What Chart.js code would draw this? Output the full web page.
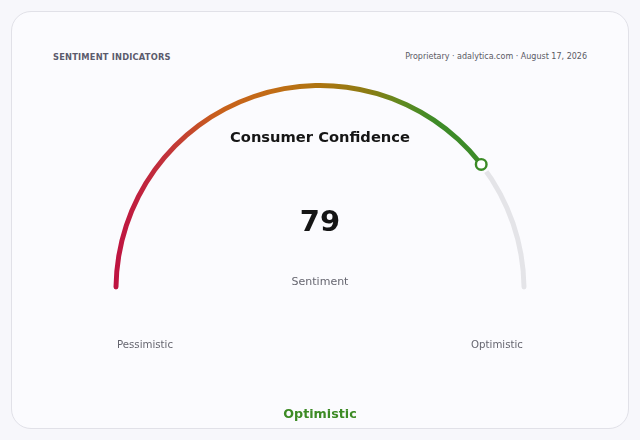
<!DOCTYPE html>
<html>
<head>
<meta charset="utf-8">
<script src="https://cdn.jsdelivr.net/npm/chart.js@4.4.1/dist/chart.umd.min.js"></script>
<style>
  html, body { margin: 0; padding: 0; background: #f7f7fb; font-family: "DejaVu Sans", sans-serif; }
  #page { position: relative; width: 640px; height: 440px; overflow: hidden; }
  .card { position: absolute; left: 11px; top: 11px; width: 616px; height: 416px;
          border: 1px solid #e1e1e8; border-radius: 20px; background: #fbfbfe; }
  #wrap { position: absolute; left: 0; top: 0; width: 640px; height: 440px; }
  .t { position: absolute; white-space: nowrap; line-height: 1; }
  .head { left: 53px; top: 53px; font-size: 8.3px; font-weight: bold; color: #5b5b6d; letter-spacing: 0.2px; }
  .src { right: 53px; top: 53px; font-size: 8px; color: #5a5a64; }
  .c { transform: translateX(-50%); }
</style>
</head>
<body>
<div id="page">
  <div class="card"></div>
  <div class="t head">SENTIMENT INDICATORS</div>
  <div class="t src">Proprietary · adalytica.com · August 17, 2026</div>
  <div id="wrap"><canvas id="gauge"></canvas></div>
  <div class="t c" style="left:320px; top:130px; font-size:14.7px; font-weight:bold; color:#151515;">Consumer Confidence</div>
  <div class="t c" id="valueText" style="left:320px; top:207px; font-size:29px; font-weight:bold; color:#151515;"></div>
  <div class="t c" style="left:320px; top:276px; font-size:11px; color:#666670;">Sentiment</div>
  <div class="t c" id="lowText" style="left:145px; top:340px; font-size:10.2px; color:#666670;"></div>
  <div class="t c" id="highText" style="left:497px; top:340px; font-size:10.2px; color:#666670;"></div>
  <div class="t c" id="zoneText" style="left:320px; top:408px; font-size:12.7px; font-weight:bold; color:#3d8b25;"></div>
</div>
<script>
// gauge data
const gaugeRange = [0, 100];
const gaugeValue = 79;
const segmentLabels = ["Consumer Confidence", "Remaining"];
const segmentValues = [gaugeValue, gaugeRange[1] - gaugeValue];
const scaleLabels = ["Pessimistic", "Optimistic"];
const zoneLabel = "Optimistic";

document.getElementById("valueText").textContent = gaugeValue;
document.getElementById("lowText").textContent = scaleLabels[0];
document.getElementById("highText").textContent = scaleLabels[1];
document.getElementById("zoneText").textContent = zoneLabel;

const ringRadius = 206.5;
const trackGrey = "#e4e4e8";
const markerGreen = "#3b8a25";
const cardBg = "#fbfbfe";

function segmentColor(context) {
    if (context.dataIndex !== 0) return trackGrey;
    const chart = context.chart;
    const cx = chart.width / 2;
    const g = chart.ctx.createLinearGradient(cx - ringRadius, 0, cx + ringRadius, 0);
    g.addColorStop(0, "#be1241");
    g.addColorStop(0.13, "#c2333b");
    g.addColorStop(0.25, "#c8601c");
    g.addColorStop(0.38, "#c26c16");
    g.addColorStop(0.5, "#ad7410");
    g.addColorStop(0.62, "#8a7c14");
    g.addColorStop(0.7, "#5e8a20");
    g.addColorStop(0.78, "#3e8b28");
    g.addColorStop(1, "#3a8a28");
    return g;
}

// marker at the end of the value arc, with a small gap before the grey track
const markerPlugin = {
    id: "marker",
    afterDatasetsDraw(chart) {
        const arc = chart.getDatasetMeta(0).data[0];
        if (!arc) return;
        const ctx = chart.ctx;
        const a = arc.endAngle;
        const mid = (arc.outerRadius + arc.innerRadius) / 2;
        ctx.save();
        ctx.fillStyle = cardBg;
        ctx.beginPath();
        ctx.arc(arc.x, arc.y, arc.outerRadius + 2, a, a + 0.043);
        ctx.arc(arc.x, arc.y, arc.innerRadius - 2, a + 0.043, a, true);
        ctx.closePath();
        ctx.fill();
        const mx = arc.x + Math.cos(a) * mid;
        const my = arc.y + Math.sin(a) * mid;
        ctx.beginPath();
        ctx.arc(mx, my, 5.3, 0, Math.PI * 2);
        ctx.fillStyle = "#ffffff";
        ctx.fill();
        ctx.lineWidth = 2.4;
        ctx.strokeStyle = markerGreen;
        ctx.stroke();
        ctx.restore();
    }
};

new Chart("gauge", {
    type: "doughnut",
    data: {
        labels: segmentLabels,
        datasets: [{
            data: segmentValues,
            backgroundColor: segmentColor,
            borderWidth: 0,
            borderRadius: 2.5
        }]
    },
    options: {
        responsive: true,
        maintainAspectRatio: false,
        animation: false,
        rotation: -90,
        circumference: 180,
        radius: ringRadius,
        cutout: "97.6%",
        layout: { padding: { bottom: 67.5 } },
        plugins: {
            legend: { display: false },
            tooltip: { enabled: false }
        }
    },
    plugins: [markerPlugin]
});
</script>
</body>
</html>
